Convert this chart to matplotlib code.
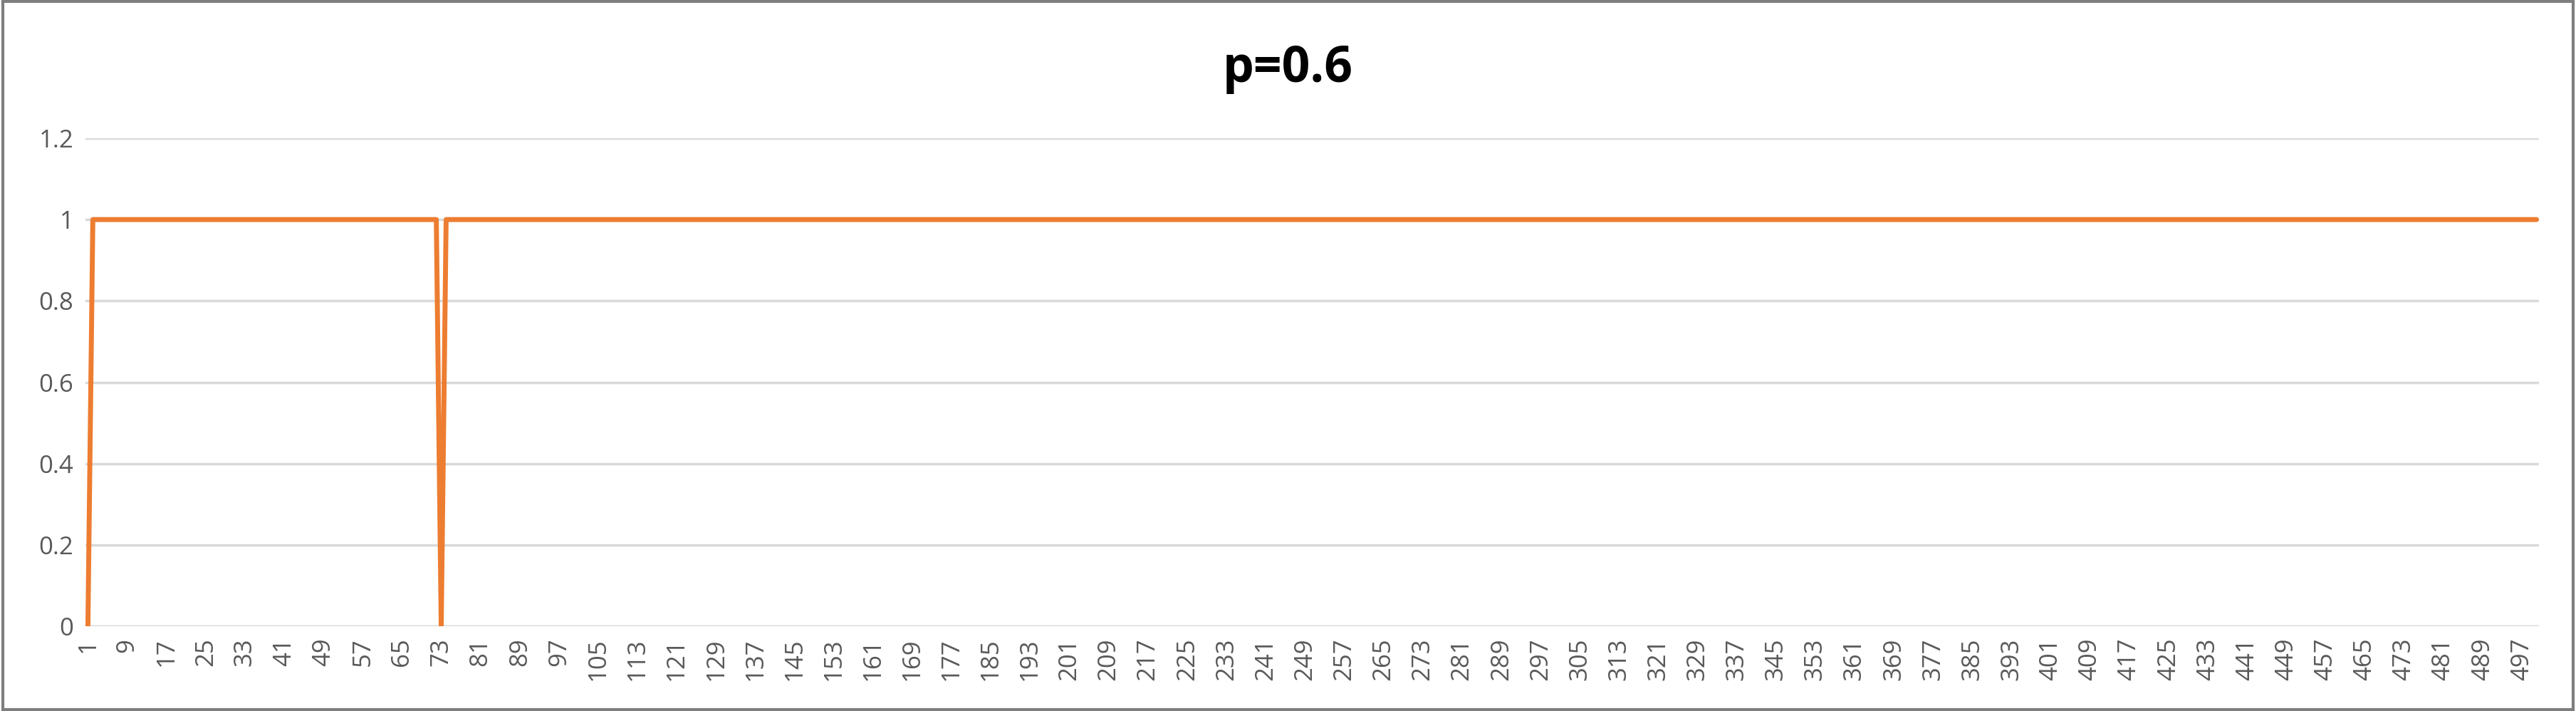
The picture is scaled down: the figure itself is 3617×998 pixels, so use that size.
import numpy as np
from matplotlib import pyplot as plt

# series: 0 at step 1 and step 73, 1 everywhere else (500 steps)
steps = np.arange(1, 501)
values = np.ones(500)
values[0] = 0
values[72] = 0
tick_labels = steps[::8]
y_ticks = [0, 0.2, 0.4, 0.6, 0.8, 1, 1.2]

fig = plt.figure(figsize=(36.17, 9.98), dpi=100)
ax = fig.add_axes([120 / 3617, 1 - 879 / 998, (3565 - 120) / 3617, (879 - 194) / 998])

ax.plot(steps, values, color='#ED7D31', lw=5, solid_joinstyle='round', solid_capstyle='round')
ax.set_xlim(0.5, 500.5)
ax.set_ylim(0, 1.2)
ax.set_yticks(y_ticks)
ax.set_yticklabels(['0', '0.2', '0.4', '0.6', '0.8', '1', '1.2'])
ax.set_xticks(tick_labels)
ax.set_xticklabels([str(t) for t in tick_labels], rotation=90)
ax.tick_params(axis='both', length=0, labelsize=25, colors='#595959', pad=12)
for lab in ax.get_xticklabels() + ax.get_yticklabels():
    lab.set_family('Open Sans')
ax.yaxis.grid(True, color='#D9D9D9', lw=2.5)
ax.set_axisbelow(True)
for s in ax.spines.values():
    s.set_visible(False)
ax.axhline(0, color='#D9D9D9', lw=2.5, zorder=0)

fig.text(0.5, 1 - 97 / 998, 'p=0.6', ha='center', va='center', fontsize=50,
         fontweight='bold', family='Open Sans')

# outer border
fig.patches.append(plt.Rectangle((0.001, 0.002), 0.998, 0.996, transform=fig.transFigure,
                                 fill=False, edgecolor='#7F7F7F', lw=3))

plt.savefig('out.png', dpi=100)
